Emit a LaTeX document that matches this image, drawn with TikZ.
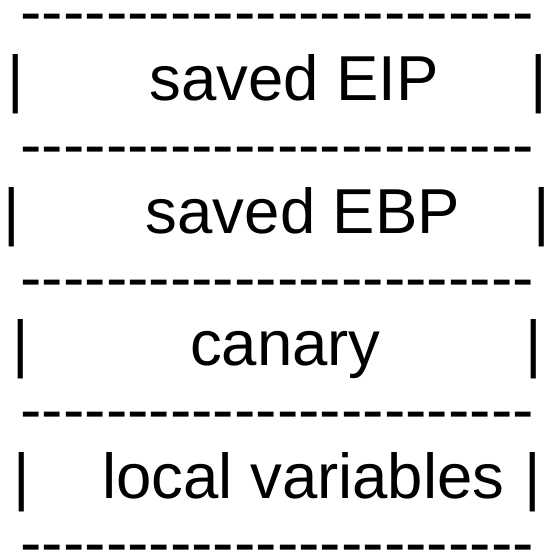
\documentclass[tikz,border=0pt]{standalone}
\usepackage{fontspec}
\setmainfont{Liberation Sans}
\tikzset{
  asc/.style={inner sep=0pt, outer sep=0pt, anchor=base, font=\fontsize{63.5pt}{70pt}\selectfont},
}
\newcommand\hy{-{}}
\newcommand\hyfour{\hy\hy\hy\hy}
\newcommand\hyrow{\scalebox{1.012}[1]{\hyfour\hyfour\hyfour\hyfour\hyfour\hyfour}}
\begin{document}
\begin{tikzpicture}[x=1pt,y=-1pt]
\useasboundingbox (0,0) rectangle (545,550);
% dashed separator rows
\node[asc] (d0) at (277.2,33.8) {\hyrow};
\node[asc] (d1) at (277.2,166.8) {\hyrow};
\node[asc] (d2) at (277.2,299.1) {\hyrow};
\node[asc] (d3) at (277.2,431.6) {\hyrow};
\node[asc] (d4) at (277.2,564.1) {\hyrow};
% row 1
\node[asc] (l1) at (16.2,100) {|};
\node[asc] (t1) at (294.2,100) {saved EIP};
\node[asc] (r1) at (538.7,100) {|};
% row 2
\node[asc] (l2) at (12,233.4) {|};
\node[asc] (t2) at (303,233.4) {saved EBP};
\node[asc] (r2) at (542,233.4) {|};
% row 3
\node[asc] (l3) at (20.3,365.4) {|};
\node[asc] (t3) at (285.4,365.4) {canary};
\node[asc] (r3) at (534,365.4) {|};
% row 4
\node[asc] (l4) at (22,498.4) {|};
\node[asc] (t4) at (303.3,498.4) {local variables};
\node[asc] (r4) at (533,498.4) {|};
\end{tikzpicture}
\end{document}
